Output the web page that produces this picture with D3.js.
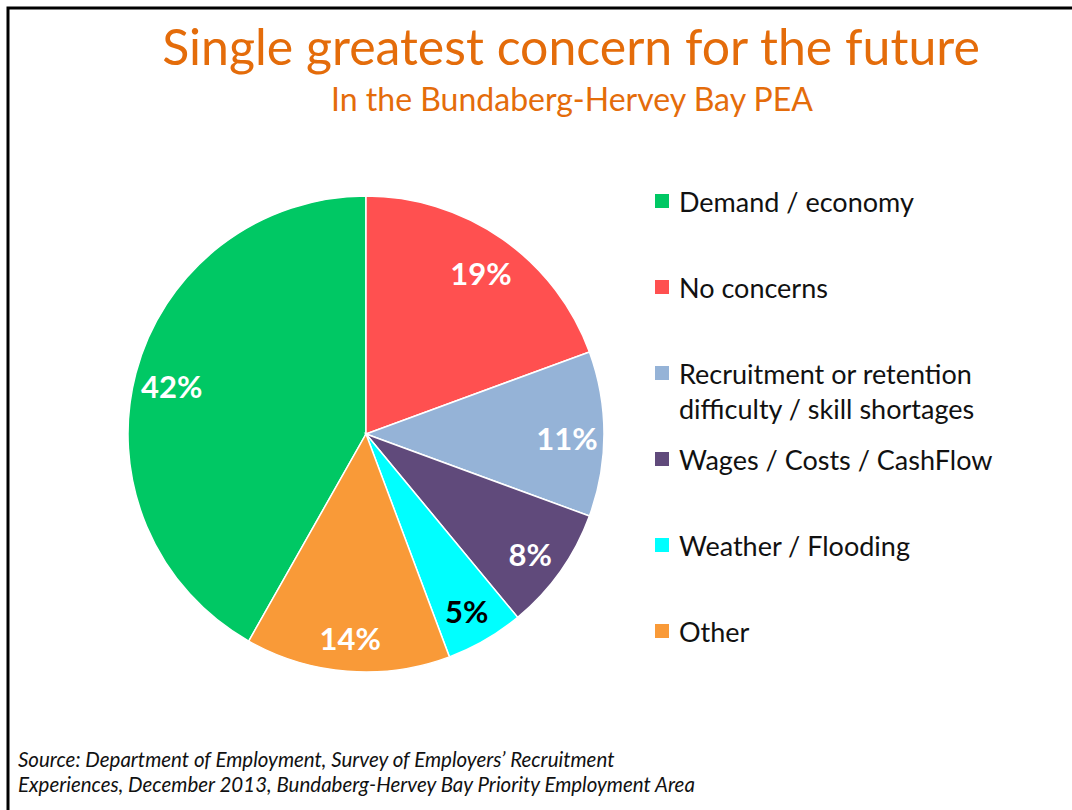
<!DOCTYPE html>
<html>
<head>
<meta charset="utf-8">
<script src="https://cdn.jsdelivr.net/npm/d3@7"></script>
<style>
  body { margin: 0; background: #fff; }
  svg { display: block; font-family: Lato, "Open Sans", sans-serif; }
</style>
</head>
<body>
<div id="chart"></div>
<script>
// categories in legend order
const categories = [
  "Demand / economy",
  "No concerns",
  "Recruitment or retention difficulty / skill shortages",
  "Wages / Costs / CashFlow",
  "Weather / Flooding",
  "Other",
];
// legend text lines (wrapped as on the slide)
const legendLines = [
  ["Demand / economy"],
  ["No concerns"],
  ["Recruitment or retention", "difficulty / skill shortages"],
  ["Wages / Costs / CashFlow"],
  ["Weather / Flooding"],
  ["Other"],
];
// share of employers, percent
const shares = [41.8, 19.4, 11.2, 8.4, 5.3, 13.9];
const colors = ["#00c864", "#ff5050", "#95b3d7", "#604a7b", "#00ffff", "#f99a38"];
const labelColors = ["#fff", "#fff", "#fff", "#fff", "#000", "#fff"];

const width = 1072, height = 810;
const svg = d3.select("#chart").append("svg")
  .attr("width", width).attr("height", height);

// slide frame (top and left edges visible)
svg.append("path")
  .attr("d", `M8,${height} V8 H${width}`)
  .attr("fill", "none").attr("stroke", "#000").attr("stroke-width", 3);

svg.append("text")
  .attr("x", 571).attr("y", 65)
  .attr("text-anchor", "middle")
  .attr("fill", "#e46c0a")
  .attr("font-size", 50)
  .text("Single greatest concern for the future");

svg.append("text")
  .attr("x", 572).attr("y", 111)
  .attr("text-anchor", "middle")
  .attr("fill", "#e46c0a")
  .attr("font-size", 32)
  .text("In the Bundaberg-Hervey Bay PEA");

// pie
const cx = 366, cy = 434, radius = 238;
const total = d3.sum(shares);
const pie = d3.pie().sort(null)
  .startAngle(-2 * Math.PI * shares[0] / total)
  .endAngle(2 * Math.PI - 2 * Math.PI * shares[0] / total);
const arcs = pie(shares);
const arc = d3.arc().innerRadius(0).outerRadius(radius);
const labelArc = d3.arc().innerRadius(201).outerRadius(201);

const g = svg.append("g").attr("transform", `translate(${cx},${cy})`);
g.selectAll("path.slice")
  .data(arcs)
  .join("path")
  .attr("class", "slice")
  .attr("d", arc)
  .attr("fill", (d, i) => colors[i])
  .attr("stroke", "#fff")
  .attr("stroke-width", 1.5);

g.selectAll("text.pct")
  .data(arcs)
  .join("text")
  .attr("class", "pct")
  .attr("transform", d => `translate(${labelArc.centroid(d)})`)
  .attr("text-anchor", "middle")
  .attr("dy", "0.5em")
  .attr("font-size", 31)
  .attr("font-weight", "bold")
  .attr("fill", (d, i) => labelColors[i])
  .text(d => Math.round(d.data) + "%");

// legend
const legendY = d3.scalePoint().domain(categories).range([201, 631]);
const legend = svg.append("g");
categories.forEach((c, i) => {
  const lines = legendLines[i];
  const y0 = legendY(c);
  legend.append("rect")
    .attr("x", 655).attr("y", y0 - 7)
    .attr("width", 14).attr("height", 14)
    .attr("fill", colors[i]);
  const t = legend.append("text")
    .attr("x", 679).attr("y", y0)
    .attr("dominant-baseline", "central")
    .attr("font-size", 27)
    .attr("fill", "#111");
  lines.forEach((l, j) => {
    t.append("tspan").attr("x", 679).attr("dy", j === 0 ? 0 : 35).text(l);
  });
});

// source note
const source = svg.append("text")
  .attr("font-size", 20.5).attr("font-style", "italic").attr("fill", "#111");
source.append("tspan").attr("x", 18).attr("y", 767)
  .text("Source: Department of Employment, Survey of Employers\u2019 Recruitment");
source.append("tspan").attr("x", 18).attr("y", 792)
  .text("Experiences, December 2013, Bundaberg-Hervey Bay Priority Employment Area");
</script>
</body>
</html>
